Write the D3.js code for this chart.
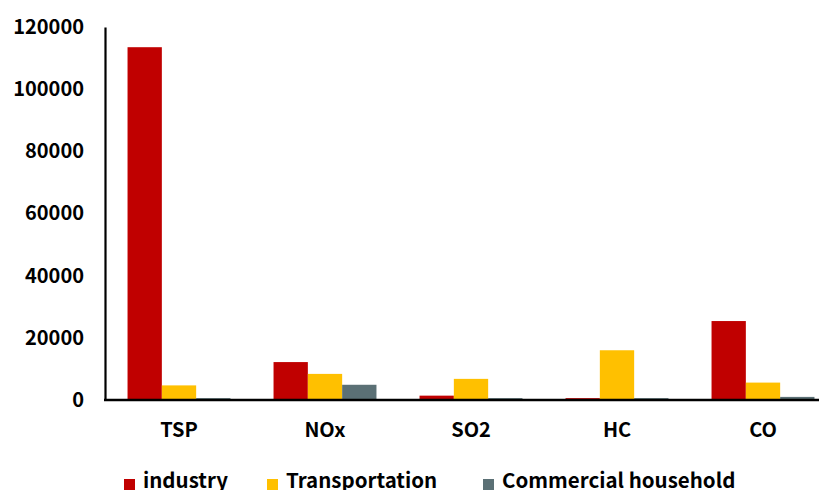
<!DOCTYPE html>
<html>
<head>
<meta charset="utf-8">
<script src="https://cdn.jsdelivr.net/npm/d3@7"></script>
<style>
  html, body { margin: 0; padding: 0; background: #fff; }
  svg { display: block; }
  text { font-family: "Noto Sans CJK KR", "Noto Sans", sans-serif; font-weight: bold; fill: #000; }
</style>
</head>
<body>
<svg id="chart" width="819" height="490"></svg>
<script>
// Emissions by pollutant and source sector
const categories = ["TSP", "NOx", "SO2", "HC", "CO"];
const seriesNames = ["industry", "Transportation", "Commercial household"];
const industry = [113500, 12200, 1400, 600, 25400];
const transportation = [4700, 8400, 6800, 16000, 5600];
const commercialHousehold = [600, 4900, 600, 600, 1000];
const yTicks = [0, 20000, 40000, 60000, 80000, 100000, 120000];
const colors = ["#C00000", "#FFC000", "#5B7075"];

const seriesValues = [industry, transportation, commercialHousehold];
const rows = categories.map((c, i) => ({
  category: c,
  values: seriesNames.map((s, j) => ({ series: s, value: seriesValues[j][i], color: colors[j] }))
}));

const svg = d3.select("#chart");
const x0 = 106, x1 = 836, yTop = 27, yBase = 400;

const x = d3.scaleBand().domain(categories).range([x0, x1])
  .paddingInner(0.295).paddingOuter(0.1475);
const xs = d3.scaleBand().domain(seriesNames).range([0, x.bandwidth()]);
const y = d3.scaleLinear().domain([0, 120000]).range([yBase, yTop]);

// bars
const groups = svg.append("g").selectAll("g").data(rows).join("g")
  .attr("transform", d => `translate(${x(d.category)},0)`);
groups.selectAll("rect").data(d => d.values).join("rect")
  .attr("x", d => xs(d.series))
  .attr("width", xs.bandwidth())
  .attr("y", d => y(d.value))
  .attr("height", d => y(0) - y(d.value))
  .attr("fill", d => d.color);

// y axis
const yAxis = svg.append("g").attr("transform", `translate(${x0 - 1},0)`)
  .call(d3.axisLeft(y).tickValues(yTicks).tickSize(0).tickPadding(21).tickFormat(d3.format("d")));
yAxis.select(".domain").attr("stroke", "#000").attr("stroke-width", 2.2);
yAxis.selectAll("text").style("font-size", "20px").attr("fill", "#000");

// baseline / x axis
const xAxis = svg.append("g").attr("transform", `translate(0,${yBase})`)
  .call(d3.axisBottom(x).tickSize(0).tickPadding(23));
xAxis.select(".domain").attr("d", `M${x0 - 2},0H819`).attr("stroke", "#000").attr("stroke-width", 2.6);
xAxis.selectAll("text").style("font-size", "20px").attr("fill", "#000");

// legend
const legendX = [124, 267, 483];
const legend = svg.append("g").selectAll("g").data(seriesNames).join("g")
  .attr("transform", (d, i) => `translate(${legendX[i]},0)`);
legend.append("rect").attr("x", 0).attr("y", 479).attr("width", 11).attr("height", 11)
  .attr("fill", (d, i) => colors[i]);
legend.append("text").attr("x", 19).attr("y", 488).style("font-size", "20.5px").text(d => d);
</script>
</body>
</html>
